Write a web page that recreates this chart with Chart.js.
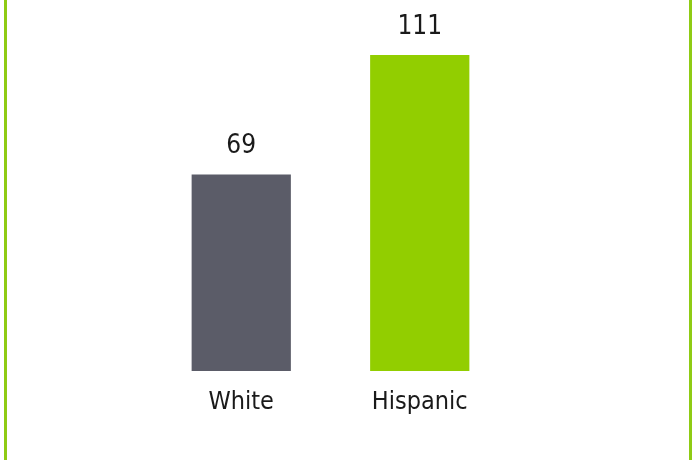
<!DOCTYPE html>
<html>
<head>
<meta charset="utf-8">
<script src="https://cdn.jsdelivr.net/npm/chart.js@4/dist/chart.umd.min.js"></script>
<style>
  html, body { margin: 0; padding: 0; background: #fff; }
  #wrap { position: relative; width: 693px; height: 460px; }
  #wrap:before, #wrap:after {
    content: ''; position: absolute; top: 0; bottom: 0; width: 3px; background: #8fcb14;
  }
  #wrap:before { left: 4px; }
  #wrap:after { left: 689px; }
</style>
</head>
<body>
<div id="wrap"><canvas id="chart" width="693" height="460"></canvas></div>
<script>
const categories = ['White', 'Hispanic'];
const values = [69, 111];
const barColors = ['#5b5c68', '#92ce00'];

const labelFont = '"Liberation Sans Narrow", "DejaVu Sans Condensed", sans-serif';

// value above each bar
const valueLabels = {
  id: 'valueLabels',
  afterDatasetsDraw(chart) {
    const ctx = chart.ctx;
    const meta = chart.getDatasetMeta(0);
    ctx.save();
    ctx.font = '26px ' + labelFont;
    ctx.fillStyle = '#1a1a1a';
    ctx.textAlign = 'center';
    ctx.textBaseline = 'middle';
    meta.data.forEach((bar, i) => {
      ctx.fillText(String(values[i]), bar.x, bar.y - 28);
    });
    ctx.restore();
  }
};

new Chart(document.getElementById('chart').getContext('2d'), {
  type: 'bar',
  data: {
    labels: categories,
    datasets: [{
      data: values,
      backgroundColor: barColors,
      barPercentage: 1,
      categoryPercentage: 0.556
    }]
  },
  options: {
    responsive: false,
    animation: false,
    layout: { padding: { left: 152, right: 184, top: 1, bottom: 35 } },
    plugins: { legend: { display: false }, tooltip: { enabled: false } },
    scales: {
      x: {
        grid: { display: false },
        border: { display: false },
        ticks: { color: '#1a1a1a', padding: 8, font: { size: 25, family: labelFont } }
      },
      y: { display: false, min: 0, max: 130 }
    }
  },
  plugins: [valueLabels]
});
</script>
</body>
</html>
